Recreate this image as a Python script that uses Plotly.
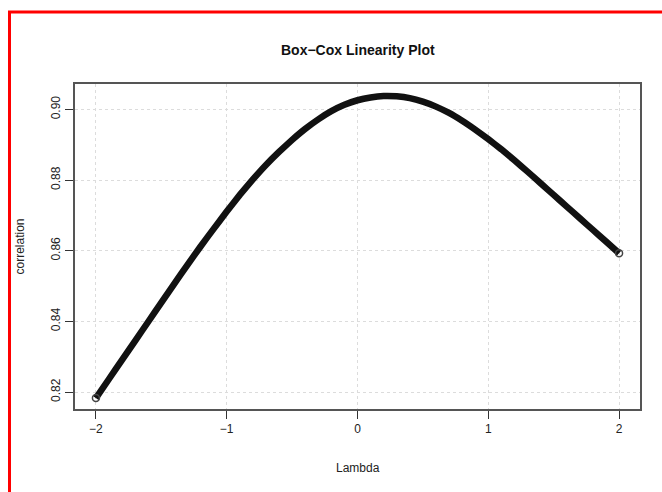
import plotly.graph_objects as go

# Box-Cox lambda values and corresponding probability-plot correlation
lambdas = [-2.0, -1.9, -1.8, -1.7, -1.6, -1.5, -1.4, -1.3, -1.2, -1.1,
           -1.0, -0.9, -0.8, -0.7, -0.6, -0.5, -0.4, -0.3, -0.2, -0.1,
           0.0, 0.1, 0.2, 0.3, 0.4, 0.5, 0.6, 0.7, 0.8, 0.9,
           1.0, 1.1, 1.2, 1.3, 1.4, 1.5, 1.6, 1.7, 1.8, 1.9, 2.0]
correlation = [0.8183, 0.8237, 0.8291, 0.8345, 0.8399, 0.8453, 0.8507, 0.8560, 0.8612, 0.8662,
               0.8711, 0.8758, 0.8802, 0.8843, 0.8880, 0.8914, 0.8945, 0.8972, 0.8995, 0.9013,
               0.9026, 0.9034, 0.9038, 0.9037, 0.9032, 0.9022, 0.9008, 0.8990, 0.8968, 0.8943,
               0.8916, 0.8887, 0.8856, 0.8824, 0.8791, 0.8758, 0.8725, 0.8692, 0.8659, 0.8626, 0.8593]

x_ticks = [-2, -1, 0, 1, 2]
y_ticks = [0.82, 0.84, 0.86, 0.88, 0.90]
y_tick_text = ["0.82", "0.84", "0.86", "0.88", "0.90"]

title_text = "Box\u2212Cox Linearity Plot"
x_title = "Lambda"
y_title = "correlation"

FONT = "Liberation Sans, Arial, sans-serif"

fig = go.Figure()
fig.add_trace(go.Scatter(
    x=lambdas, y=correlation, mode="lines",
    line=dict(color="#111111", width=6.5, shape="spline", smoothing=0.3),
    showlegend=False, hoverinfo="x+y",
))
# open circles visible at the two ends of the dense point band
fig.add_trace(go.Scatter(
    x=[lambdas[0], lambdas[-1]], y=[correlation[0], correlation[-1]], mode="markers",
    marker=dict(symbol="circle-open", size=7, color="#444444", line=dict(width=1.5, color="#444444")),
    showlegend=False, hoverinfo="x+y",
))

W, H = 662, 492
L, R, T, B = 75, 22, 84, 83
pw, ph = W - L - R, H - T - B

def px_x(x):
    return (x - L) / pw

def px_y(y):
    return (H - B - y) / ph

fig.update_layout(
    width=W, height=H,
    margin=dict(l=L, r=R, t=T, b=B, pad=0),
    paper_bgcolor="white", plot_bgcolor="white",
    font=dict(family=FONT, size=12, color="#222222"),
    xaxis=dict(
        range=[-2.16, 2.16], tickvals=x_ticks, ticks="outside", ticklen=8,
        tickcolor="#333333", tickwidth=1, showline=True, linecolor="#555555", linewidth=1.5,
        mirror=True, showgrid=True, gridcolor="#dcdcdc", griddash="dot", gridwidth=1,
        zeroline=False, tickfont=dict(size=12, color="#222222"),
    ),
    yaxis=dict(
        range=[0.8152, 0.9072], tickvals=y_ticks, ticktext=y_tick_text, ticks="outside", ticklen=8,
        tickcolor="#333333", tickwidth=1, showline=True, linecolor="#555555", linewidth=1.5,
        mirror=True, showgrid=True, gridcolor="#dcdcdc", griddash="dot", gridwidth=1,
        zeroline=False, tickangle=-90, tickfont=dict(size=12, color="#222222"),
    ),
    annotations=[
        dict(text="<b>" + title_text + "</b>", xref="paper", yref="paper",
             x=0.5, y=px_y(50), xanchor="center", yanchor="middle", showarrow=False,
             font=dict(size=14, color="#111111", family=FONT)),
        dict(text=x_title, xref="paper", yref="paper",
             x=0.5, y=px_y(468), xanchor="center", yanchor="middle", showarrow=False,
             font=dict(size=12, color="#222222", family=FONT)),
        dict(text=y_title, xref="paper", yref="paper",
             x=px_x(19), y=0.5, xanchor="center", yanchor="middle", showarrow=False,
             textangle=-90, font=dict(size=12, color="#222222", family=FONT)),
    ],
    shapes=[
        dict(type="rect", xref="paper", yref="paper",
             x0=px_x(9.5), x1=px_x(680), y0=px_y(510), y1=px_y(12),
             line=dict(color="#ff0000", width=3), fillcolor="rgba(0,0,0,0)", layer="above"),
    ],
)

fig.write_html("out.html")
